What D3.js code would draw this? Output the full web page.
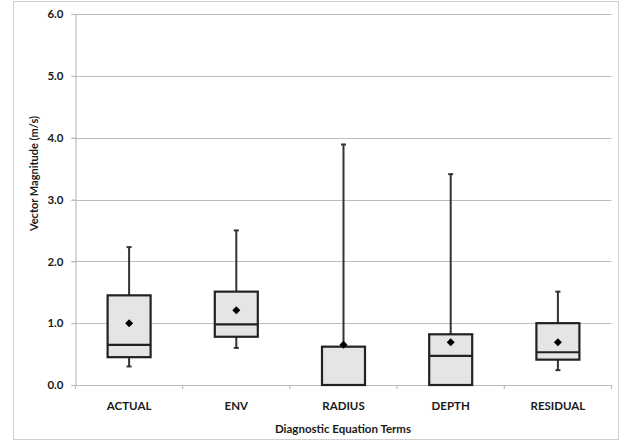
<!DOCTYPE html>
<html>
<head>
<meta charset="utf-8">
<script src="https://cdn.jsdelivr.net/npm/d3@7"></script>
<style>
  html, body { margin: 0; padding: 0; background: #fff; }
  svg { display: block; }
  text { font-family: Lato, "Open Sans", sans-serif; font-weight: bold; fill: #1a1a1a; }
</style>
</head>
<body>
<svg id="chart" width="621" height="441"></svg>
<script>
// ---- data ----
const categories = ["ACTUAL", "ENV", "RADIUS", "DEPTH", "RESIDUAL"];
const whiskerLow = [0.30, 0.60, 0.00, 0.00, 0.24];
const boxLow     = [0.45, 0.78, 0.00, 0.00, 0.41];
const medians    = [0.65, 0.98, 0.00, 0.47, 0.53];
const boxHigh    = [1.45, 1.51, 0.62, 0.82, 1.00];
const whiskerHigh= [2.23, 2.50, 3.89, 3.41, 1.51];
const means      = [1.00, 1.21, 0.65, 0.69, 0.69];
const yTicks = [0, 1, 2, 3, 4, 5, 6];
const yTitle = "Vector Magnitude (m/s)";
const xTitle = "Diagnostic Equation Terms";

const rows = categories.map((c, i) => ({
  cat: c, wl: whiskerLow[i], bl: boxLow[i], med: medians[i],
  bh: boxHigh[i], wh: whiskerHigh[i], mean: means[i]
}));

const svg = d3.select("#chart");
const plot = { left: 75.5, right: 611.5, top: 14, bottom: 385 };

// outer border
svg.append("rect").attr("x", 13.5).attr("y", 1.5).attr("width", 605).attr("height", 438)
  .attr("fill", "none").attr("stroke", "#d0d0d0").attr("stroke-width", 1);

const x = d3.scaleBand().domain(categories).range([plot.left, plot.right]).padding(0);
const y = d3.scaleLinear().domain([0, 6]).range([plot.bottom, plot.top]);

// gridlines
svg.append("g").selectAll("line").data(yTicks.filter(t => t > 0)).join("line")
  .attr("x1", plot.left - 4).attr("x2", plot.right)
  .attr("y1", d => Math.round(y(d)) + 0.5).attr("y2", d => Math.round(y(d)) + 0.5)
  .attr("stroke", "#bdbdbd").attr("stroke-width", 1.2);

// y axis
const yAxis = d3.axisLeft(y).tickValues(yTicks).tickFormat(d3.format(".1f")).tickSize(4).tickPadding(8);
const gy = svg.append("g").attr("transform", `translate(${plot.left},0)`).call(yAxis);
gy.select(".domain").attr("stroke", "#bdbdbd").attr("stroke-width", 1.2);
gy.selectAll(".tick line").attr("stroke", "#bdbdbd").attr("stroke-width", 1.2);
gy.selectAll(".tick text").attr("font-size", 11.5).attr("font-family", "Lato, sans-serif")
  .attr("font-weight", "bold").attr("fill", "#1a1a1a");

// x axis
const xAxis = d3.axisBottom(x).tickSize(0).tickPadding(17);
const gx = svg.append("g").attr("transform", `translate(0,${plot.bottom})`).call(xAxis);
gx.select(".domain").attr("stroke", "#bdbdbd").attr("stroke-width", 1.2);
gx.selectAll(".tick text").attr("font-size", 11.5).attr("font-family", "Lato, sans-serif")
  .attr("font-weight", "bold").attr("fill", "#1a1a1a");
// boundary ticks between categories
const bounds = categories.map(c => x(c)).concat([x(categories[categories.length - 1]) + x.bandwidth()]);
gx.append("g").selectAll("line").data(bounds).join("line")
  .attr("x1", d => d).attr("x2", d => d).attr("y1", 0).attr("y2", 4)
  .attr("stroke", "#bdbdbd").attr("stroke-width", 1.2);

// boxes
const bw = 43;
const g = svg.append("g");
const cx = d => x(d.cat) + x.bandwidth() / 2;

// whiskers
g.selectAll(".whisker").data(rows).join("line")
  .attr("x1", cx).attr("x2", cx)
  .attr("y1", d => y(d.wl)).attr("y2", d => y(d.wh))
  .attr("stroke", "#333").attr("stroke-width", 2);
// whisker caps
g.selectAll(".capH").data(rows).join("line")
  .attr("x1", d => cx(d) - 2.5).attr("x2", d => cx(d) + 2.5)
  .attr("y1", d => y(d.wh)).attr("y2", d => y(d.wh))
  .attr("stroke", "#333").attr("stroke-width", 2);
g.selectAll(".capL").data(rows.filter(d => d.wl > 0)).join("line")
  .attr("x1", d => cx(d) - 2.5).attr("x2", d => cx(d) + 2.5)
  .attr("y1", d => y(d.wl)).attr("y2", d => y(d.wl))
  .attr("stroke", "#333").attr("stroke-width", 2);

// box rect
g.selectAll(".box").data(rows).join("rect")
  .attr("x", d => cx(d) - bw / 2).attr("width", bw)
  .attr("y", d => y(d.bh)).attr("height", d => y(d.bl) - y(d.bh))
  .attr("fill", "#e5e5e5").attr("stroke", "#222").attr("stroke-width", 2.2);

// median
g.selectAll(".median").data(rows.filter(d => d.med > d.bl)).join("line")
  .attr("x1", d => cx(d) - bw / 2).attr("x2", d => cx(d) + bw / 2)
  .attr("y1", d => y(d.med)).attr("y2", d => y(d.med))
  .attr("stroke", "#222").attr("stroke-width", 2.2);

// mean diamonds (square rotated 45deg)
const dr = 4;
g.selectAll(".mean").data(rows).join("path")
  .attr("d", `M0,${-dr}L${dr},0L0,${dr}L${-dr},0Z`)
  .attr("transform", d => `translate(${cx(d)},${y(d.mean)})`)
  .attr("fill", "#000");

// titles
svg.append("text").attr("transform", `translate(38,${(plot.top + plot.bottom) / 2 - 26}) rotate(-90)`)
  .attr("text-anchor", "middle").attr("font-size", 11).text(yTitle);
svg.append("text").attr("x", 343).attr("y", 433)
  .attr("text-anchor", "middle").attr("font-size", 11.5).text(xTitle);
</script>
</body>
</html>
